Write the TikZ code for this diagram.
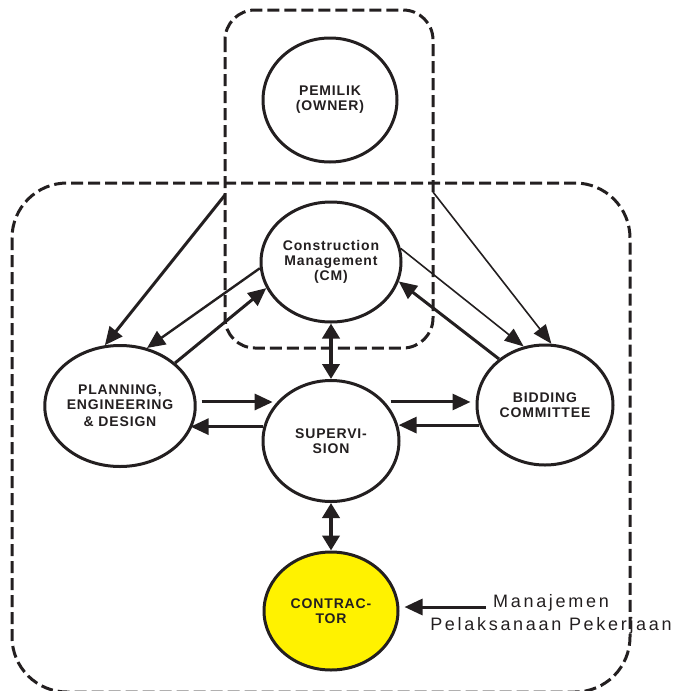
\documentclass[tikz,border=0pt]{standalone}
\usepackage{fontspec}
\setmainfont{Liberation Sans}
\usepackage{tikz}
\usetikzlibrary{arrows.meta, positioning, shapes.geometric}
\definecolor{ink}{HTML}{231F20}
\definecolor{conyellow}{HTML}{FFF200}

\begin{document}
\begin{tikzpicture}[x=1pt, y=-1pt, line join=round,
  unit/.style={ellipse, draw=ink, line width=3pt, minimum width=136pt, minimum height=121pt,
    inner sep=0pt, align=center, text=ink,
    font=\bfseries\fontsize{14}{15}\selectfont\addfontfeature{LetterSpace=6}},
  zone/.style={draw=ink, line width=3pt, dash pattern=on 12pt off 5pt},
  flow/.style={draw=ink, line width=3pt, -{Triangle[length=18pt,width=16pt]}},
  lightflow/.style={draw=ink, line width=1.6pt, -{Triangle[length=19pt,width=15pt]}},
  twoway/.style={draw=ink, line width=4.5pt, {Triangle[length=15pt,width=17pt]}-{Triangle[length=15pt,width=17pt]}},
  note/.style={align=center, text=ink, inner sep=0pt,
    font=\fontsize{18}{23}\selectfont\addfontfeature{LetterSpace=15}}]
  \useasboundingbox (0,0) rectangle (674,691);

  % dashed zones
  \draw[zone, rounded corners=30pt] (225,10) rectangle (433,348);
  \begin{scope}
    \clip (0,0) rectangle (674,691);
    \draw[zone, rounded corners=55pt] (12,183) rectangle (630,692);
  \end{scope}

  % units
  \node[unit, minimum width=134pt, minimum height=124pt] (owner) at (330,100) {PEMILIK\\(OWNER)};
  \node[unit, minimum width=140pt, minimum height=120pt] (cm) at (331,262) {Construction\\Management\\(CM)};
  \node[unit] (plan) at (120,406) {PLANNING,\\ENGINEERING\\[2pt]\& DESIGN};
  \node[unit] (sup) at (331,441) {SUPERVI-\\SION};
  \node[unit, minimum height=120pt] (bid) at (545,405) {BIDDING\\COMMITTEE};
  \node[unit, fill=conyellow, minimum width=134pt, minimum height=118pt] (con) at (331,611) {CONTRAC-\\TOR};
  \node[note] (mpp) at (551,614) {Manajemen\\Pelaksanaan Pekerjaan};

  \coordinate (oleft) at (225,195);
  \coordinate (oright) at (433,192);
  \coordinate (mtail) at (486,607);

  % connectors
  \draw[flow] (oleft) -- (plan.104);
  \draw[lightflow] (oright) -- (bid.84);
  \draw[flow, line width=2.4pt] (cm.185) -- (plan.65);
  \draw[flow] (plan.38) -- (cm.202);
  \draw[lightflow] (cm.11) -- (bid.110);
  \draw[flow] (bid.135) -- (cm.-16);
  \draw[twoway] (cm.south) -- (sup.north);
  \draw[flow, shorten <=5pt] (plan.3) -- (plan.3 -| sup.150);
  \draw[flow] (sup.168) -- (sup.168 -| plan.-19);
  \draw[flow, shorten >=5pt] (sup.28 |- plan.3) -- (bid.west |- plan.3);
  \draw[flow] (bid.197) -- (bid.197 -| sup.12);
  \draw[twoway] (sup.south) -- (con.north);
  \draw[flow, shorten >=5pt] (mtail) -- (con.east |- mtail);
\end{tikzpicture}
\end{document}
